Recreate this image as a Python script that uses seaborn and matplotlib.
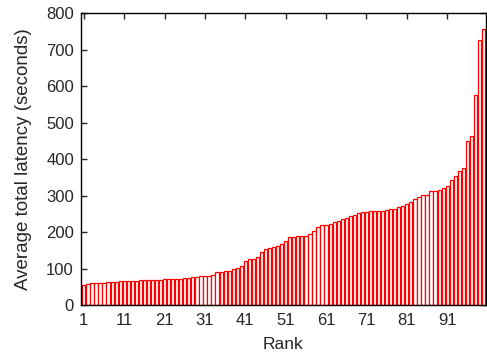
import pandas as pd
import matplotlib
matplotlib.use('Agg')
import matplotlib.pyplot as plt
import seaborn as sns

# valores (latencia media por rank)
rank = list(range(1, 101))
latency = [54, 58, 60, 61, 62, 62, 63, 64, 64, 65,
           66, 67, 67, 67, 68, 68, 68, 68, 69, 70,
           71, 72, 72, 72, 73, 74, 75, 77, 78, 79,
           79, 80, 83, 90, 92, 94, 95, 99, 101, 108,
           122, 126, 127, 133, 147, 154, 158, 159, 161, 168,
           177, 188, 188, 189, 189, 190, 195, 204, 213, 220,
           221, 222, 228, 232, 236, 240, 244, 247, 253, 256,
           256, 257, 257, 258, 258, 260, 263, 265, 268, 272,
           277, 284, 290, 296, 302, 303, 313, 314, 315, 321,
           328, 344, 355, 369, 376, 449, 465, 575, 728, 756]
tick_labels = ['1', '11', '21', '31', '41', '51', '61', '71', '81', '91']

df = pd.DataFrame({'Rank': rank, 'Latency': latency})

sns.set_style('ticks')
plt.rcParams['font.family'] = ['Liberation Sans', 'DejaVu Sans']
plt.rcParams['xtick.direction'] = 'in'
plt.rcParams['ytick.direction'] = 'in'

fig = plt.figure(figsize=(4.87, 3.54), dpi=100)
ax = fig.add_axes([0.166, 0.138, 0.831, 0.824])

sns.barplot(data=df, x='Rank', y='Latency', color='white', edgecolor='red',
            linewidth=0.9, saturation=1, width=0.8, ax=ax)

ax.set_xlim(-0.75, 99.5)
ax.set_ylim(0, 800)
ax.set_xticks(range(0, 100, 10))
ax.set_xticklabels(tick_labels)
ax.set_yticks(range(0, 801, 100))
ax.tick_params(axis='both', labelsize=12, length=4, width=1, top=True, right=True)
ax.tick_params(axis='x', pad=6)
ax.tick_params(axis='y', pad=5)
for s in ax.spines.values():
    s.set_visible(True)
    s.set_linewidth(1)
    s.set_color('black')
ax.set_xlabel('Rank', fontsize=12.5, labelpad=6)
ax.set_ylabel('Average total latency (seconds)', fontsize=13.5, labelpad=10)

plt.savefig('out.png', dpi=100)
